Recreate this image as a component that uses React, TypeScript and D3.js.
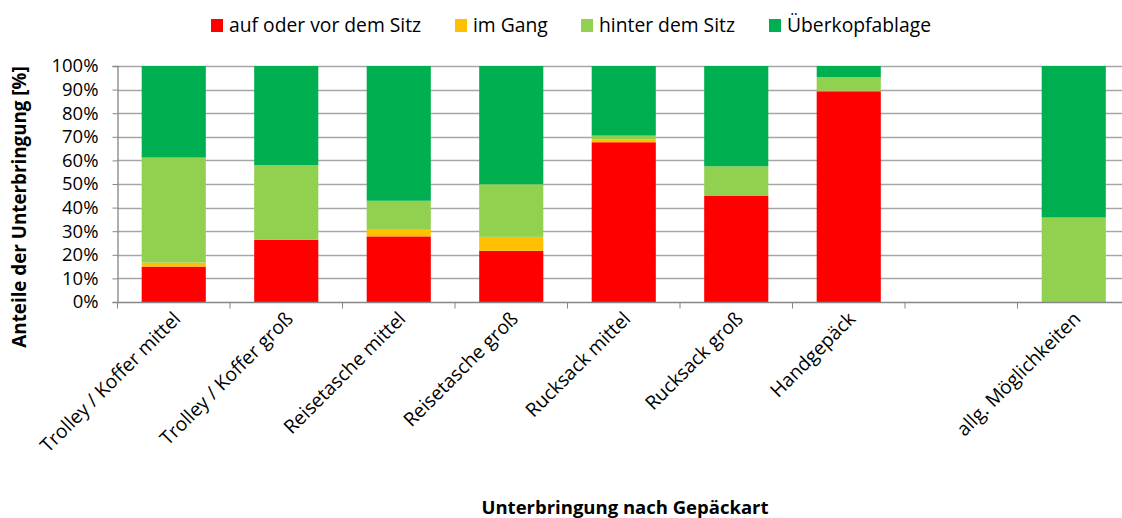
import React, { useEffect, useRef } from "react";
import * as d3 from "d3";

const categories = [
  "Trolley / Koffer mittel",
  "Trolley / Koffer groß",
  "Reisetasche mittel",
  "Reisetasche groß",
  "Rucksack mittel",
  "Rucksack groß",
  "Handgepäck",
  "",
  "allg. Möglichkeiten",
];

const seriesNames = ["auf oder vor dem Sitz", "im Gang", "hinter dem Sitz", "Überkopfablage"];
const seriesColors = ["#FF0000", "#FFC000", "#92D050", "#00B050"];

const aufVorSitz = [15, 26.4, 27.8, 21.7, 67.7, 45.1, 89.3, 0, 0];
const imGang = [1.7, 0, 2.8, 5.9, 1.3, 0, 0.3, 0, 0];
const hinterSitz = [44.5, 31.6, 12.3, 22.3, 1.5, 12.4, 5.7, 0, 35.8];
const ueberkopf = [38.8, 42, 57.1, 50.1, 29.5, 42.5, 4.7, 0, 64.2];

const yTicks = [0, 10, 20, 30, 40, 50, 60, 70, 80, 90, 100];

const W = 1122;
const H = 518;
const FONT = "'Open Sans', Lato, sans-serif";

export default function App() {
  const ref = useRef<SVGSVGElement>(null);

  useEffect(() => {
    const svg = d3.select(ref.current);
    svg.selectAll("*").remove();

    const left = 117.5, right = 1130, top = 66, bottom = 302;

    const rows = categories.map((c, i) => ({
      cat: c,
      [seriesNames[0]]: aufVorSitz[i],
      [seriesNames[1]]: imGang[i],
      [seriesNames[2]]: hinterSitz[i],
      [seriesNames[3]]: ueberkopf[i],
    }));
    const stacked = d3.stack<any>().keys(seriesNames)(rows);

    const x = d3.scaleBand()
      .domain(categories)
      .range([left, right])
      .paddingInner(0.43)
      .paddingOuter(0.215);

    const y = d3.scaleLinear().domain([0, 100]).range([bottom, top]);

    // gridlines
    svg.append("g")
      .selectAll("line")
      .data(yTicks.filter(d => d > 0))
      .join("line")
      .attr("x1", left)
      .attr("x2", W)
      .attr("y1", d => Math.round(y(d)) + 0.5)
      .attr("y2", d => Math.round(y(d)) + 0.5)
      .attr("stroke", "#A6A6A6")
      .attr("stroke-width", 1.3);

    // bars
    svg.append("g")
      .selectAll("g")
      .data(stacked)
      .join("g")
      .attr("fill", (d, i) => seriesColors[i])
      .selectAll("rect")
      .data(d => d)
      .join("rect")
      .attr("x", d => x(d.data.cat)!)
      .attr("width", x.bandwidth())
      .attr("y", d => y(d[1]))
      .attr("height", d => y(d[0]) - y(d[1]));

    // y axis
    const yAxis = svg.append("g")
      .attr("transform", `translate(${left},0)`)
      .call(d3.axisLeft(y).tickValues(yTicks).tickFormat(d => d + "%").tickSize(5).tickPadding(14));
    yAxis.select(".domain").attr("stroke", "#868686").attr("stroke-width", 1.3);
    yAxis.selectAll(".tick line").attr("stroke", "#868686");
    yAxis.selectAll("text")
      .attr("font-family", FONT)
      .attr("font-size", 18.5)
      .attr("fill", "#000");

    // x axis
    const xAxis = svg.append("g")
      .attr("transform", `translate(0,${bottom + 0.5})`);
    xAxis.append("line")
      .attr("x1", left).attr("x2", W)
      .attr("stroke", "#868686").attr("stroke-width", 1.5);
    const bounds = categories.map((c, i) => left + i * x.step()).concat([left + categories.length * x.step()]);
    xAxis.selectAll("line.tk")
      .data(bounds)
      .join("line")
      .attr("class", "tk")
      .attr("x1", d => d).attr("x2", d => d)
      .attr("y1", 0).attr("y2", 6)
      .attr("stroke", "#868686");

    svg.append("g")
      .selectAll("text")
      .data(categories)
      .join("text")
      .attr("transform", d => `translate(${x(d)! + x.bandwidth() / 2 + 8},${bottom + 18}) rotate(-45)`)
      .attr("text-anchor", "end")
      .attr("font-family", FONT)
      .attr("font-size", 19.2)
      .attr("fill", "#000")
      .text(d => d);

    // axis titles
    svg.append("text")
      .attr("transform", `translate(26,207) rotate(-90)`)
      .attr("text-anchor", "middle")
      .attr("font-family", FONT)
      .attr("font-weight", 700)
      .attr("font-size", 18.8)
      .text("Anteile der Unterbringung [%]");

    svg.append("text")
      .attr("x", 625)
      .attr("y", 514)
      .attr("text-anchor", "middle")
      .attr("font-family", FONT)
      .attr("font-weight", 700)
      .attr("font-size", 18.5)
      .text("Unterbringung nach Gepäckart");

    // legend
    const legX = [211, 455, 581, 769];
    const leg = svg.append("g")
      .selectAll("g")
      .data(seriesNames)
      .join("g")
      .attr("transform", (d, i) => `translate(${legX[i]},19)`);
    leg.append("rect")
      .attr("width", 12).attr("height", 13)
      .attr("fill", (d, i) => seriesColors[i]);
    leg.append("text")
      .attr("x", 18).attr("y", 12.5)
      .attr("font-family", FONT)
      .attr("font-size", 19.3)
      .attr("fill", "#000")
      .text(d => d);
  }, []);

  return (
    <svg ref={ref} width={W} height={H}
      style={{ position: "absolute", left: 0, top: 0, background: "#fff" }} />
  );
}
